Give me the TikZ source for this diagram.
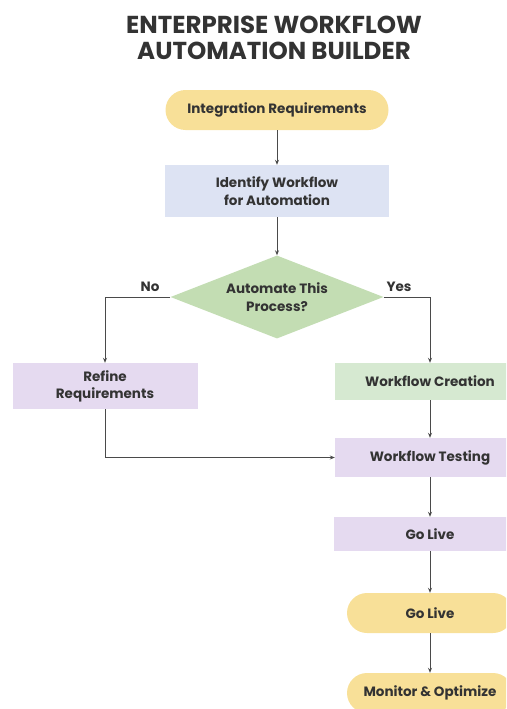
\documentclass[tikz,border=0pt]{standalone}
\usepackage{fontspec}
\setmainfont{Poppins}
\usetikzlibrary{shapes.geometric,arrows.meta}
\definecolor{pillyellow}{HTML}{F8E098}
\definecolor{boxblue}{HTML}{DDE3F3}
\definecolor{decgreen}{HTML}{C3DDB3}
\definecolor{boxlav}{HTML}{E5DAF0}
\definecolor{boxgreen}{HTML}{D6E9D1}
\definecolor{inkgray}{HTML}{333333}
\definecolor{linegray}{HTML}{4A4A4A}
\begin{document}
\begin{tikzpicture}[x=1pt, y=-1pt, font=\fontsize{13.5}{18}\selectfont\bfseries, text=inkgray,
	pill/.style={rounded corners=20pt, fill=pillyellow, minimum height=40pt, inner sep=0pt},
	flatbox/.style={rectangle, inner sep=0pt, align=center},
	decision/.style={diamond, aspect=2.57, fill=decgreen, minimum width=213pt, minimum height=83pt, inner sep=0pt, align=center},
	flow/.style={-{Stealth[length=5pt,width=4pt]}, linegray, line width=0.8pt}]
	\useasboundingbox (0,0) rectangle (506,709);
	\clip (0,0) rectangle (506,709);
	% title
	\node[font=\fontsize{24.5}{26}\selectfont\bfseries, align=center] (title) at (274,38) {ENTERPRISE WORKFLOW\\AUTOMATION BUILDER};
	% nodes
	\node[pill, minimum width=223pt] (req) at (277,110) {Integration Requirements};
	\node[flatbox, fill=boxblue, minimum width=224pt, minimum height=52pt] (ident) at (277,191) {Identify Workflow\\for Automation};
	\node[decision] (dec) at (277,297) {Automate This\\Process?};
	\node[flatbox, fill=boxlav, minimum width=185pt, minimum height=46pt, font=\fontsize{13.5}{17}\selectfont\bfseries] (refine) at (105,386) {Refine\\Requirements};
	\node[flatbox, fill=boxgreen, minimum width=190pt, minimum height=37pt] (create) at (430,381.5) {Workflow Creation};
	\node[flatbox, fill=boxlav, minimum width=190pt, minimum height=39pt] (test) at (430,457.5) {Workflow Testing};
	\node[flatbox, fill=boxlav, minimum width=192pt, minimum height=34pt] (live) at (430,534) {Go Live};
	\node[pill, minimum width=166pt] (golive) at (430,613) {Go Live};
	\node[pill, minimum width=166pt] (monitor) at (430,693) {Monitor \& Optimize};
	% labels
	\node (no) at (150,287) {No};
	\node (yes) at (399,287) {Yes};
	% connectors
	\draw[flow] (req) -- (ident);
	\draw[flow] (ident) -- (dec);
	\draw[flow] (dec.west) -| (refine.north);
	\draw[flow] (dec.east) -| (create.north);
	\draw[flow] (refine.south) |- (test.west);
	\draw[flow] (create) -- (test);
	\draw[flow] (test) -- (live);
	\draw[flow] (live) -- (golive);
	\draw[flow] (golive) -- (monitor);
\end{tikzpicture}
\end{document}
